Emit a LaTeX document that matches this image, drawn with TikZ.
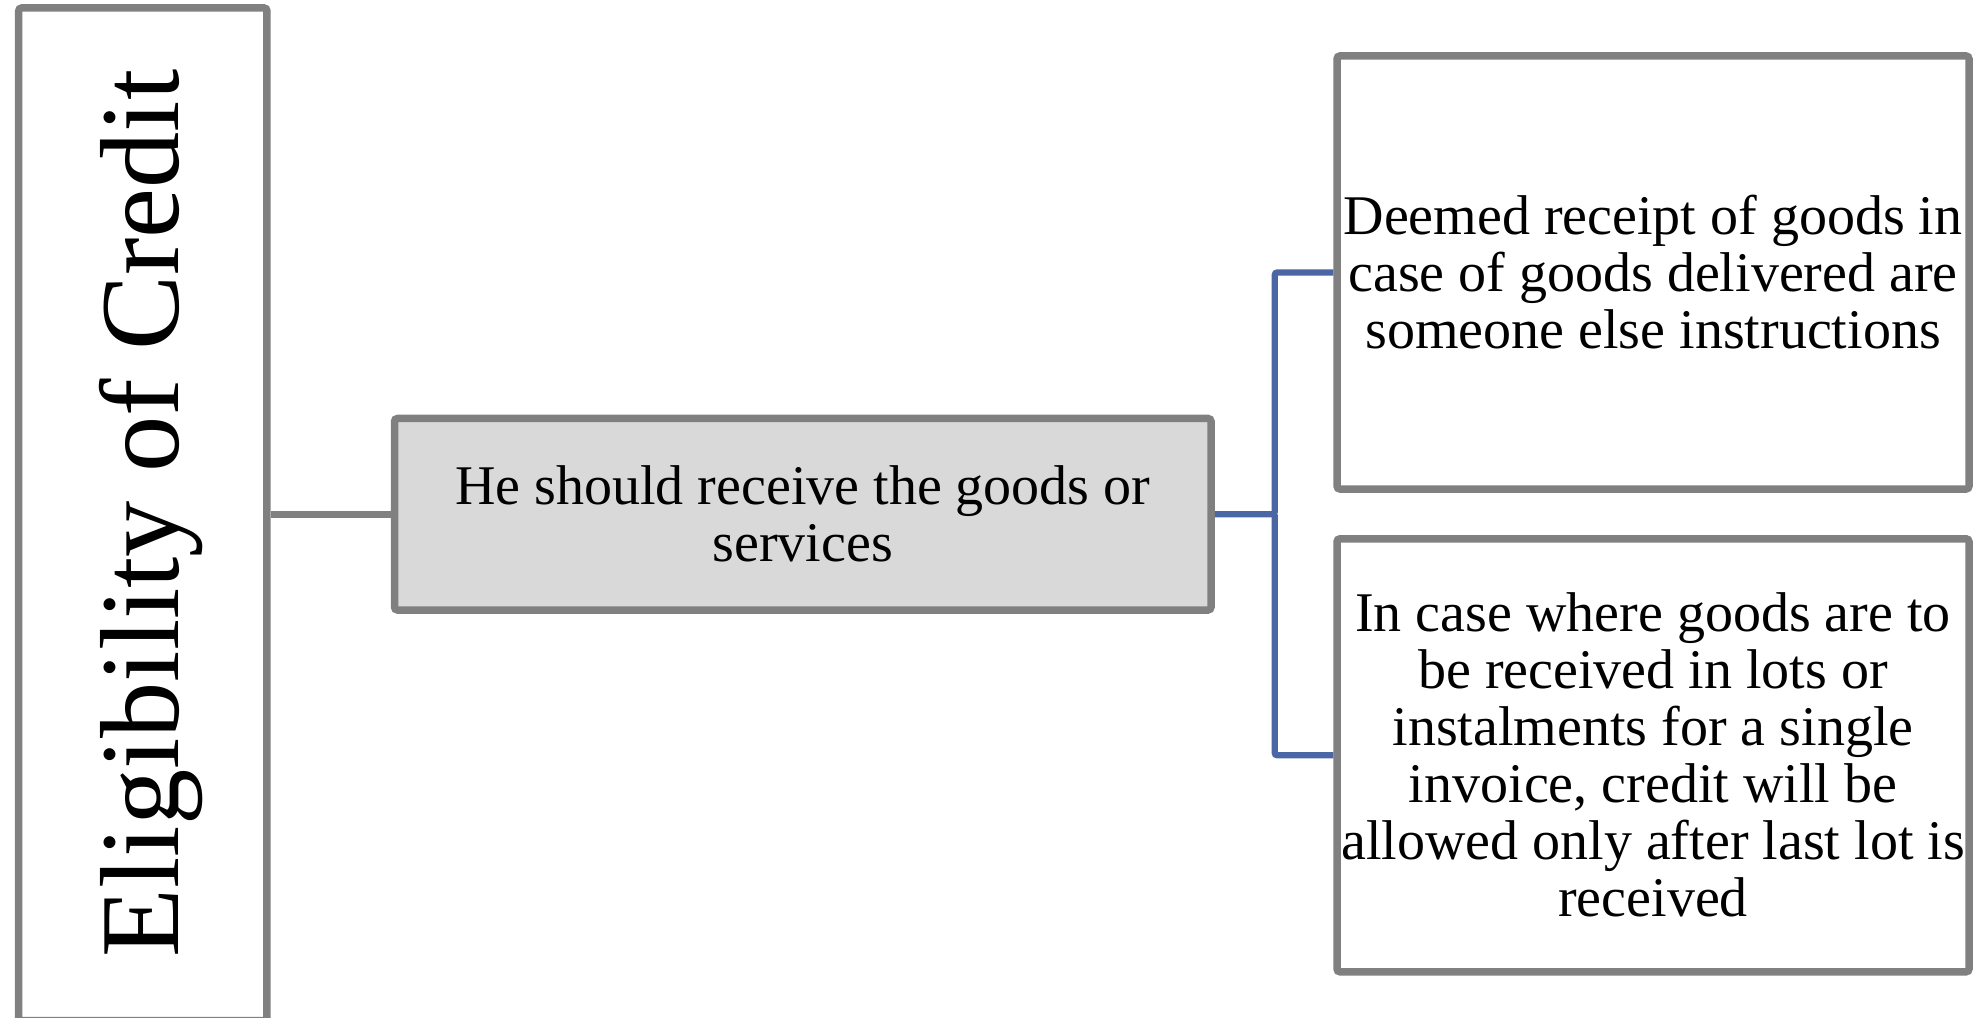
\documentclass[tikz,border=0pt]{standalone}
\usepackage{fontspec}
\setmainfont{Liberation Serif}
\definecolor{bordergray}{RGB}{128,128,128}
\definecolor{fillgray}{RGB}{217,217,217}
\definecolor{linkblue}{RGB}{74,102,165}
\tikzset{
  boxstyle/.style={draw=bordergray, line width=3pt, rounded corners=1.2pt, inner sep=0pt, align=center, font=\fontsize{22.4pt}{22.8pt}\selectfont},
  grayline/.style={draw=bordergray, line width=3pt},
  blueline/.style={draw=linkblue, line width=2.5pt, rounded corners=1pt},
}
\begin{document}
\begin{tikzpicture}[x=0.4pt, y=-0.4pt]
\useasboundingbox (0,0) rectangle (1977,1018);
\node[boxstyle, fill=white, minimum width=99.3pt, minimum height=405pt] (leftbox) at (142.85,514.25) {};
\node[rotate=90, anchor=base, inner sep=0pt, font=\fontsize{45pt}{50pt}\selectfont] (title) at (178,513.5) {Eligibility of Credit};
\node[boxstyle, fill=fillgray, minimum width=326.6pt, minimum height=76.6pt] (mid) at (802.75,514.25) {He should receive the goods or\\services};
\node[boxstyle, fill=white, minimum width=252.8pt, minimum height=173.2pt] (tr) at (1653,272.5) {Deemed receipt of goods in\\case of goods delivered are\\someone else instructions};
\node[boxstyle, fill=white, minimum width=252.8pt, minimum height=173.2pt] (br) at (1653,755.3) {In case where goods are to\\be received in lots or\\instalments for a single\\invoice, credit will be\\allowed only after last lot is\\received};
\coordinate (junc) at (1274.7,514.25);
\draw[grayline] (leftbox.east) -- (mid.west);
\draw[blueline] (mid.east) -- (junc) |- (tr.west);
\draw[blueline] (junc) |- (br.west);
\end{tikzpicture}
\end{document}
